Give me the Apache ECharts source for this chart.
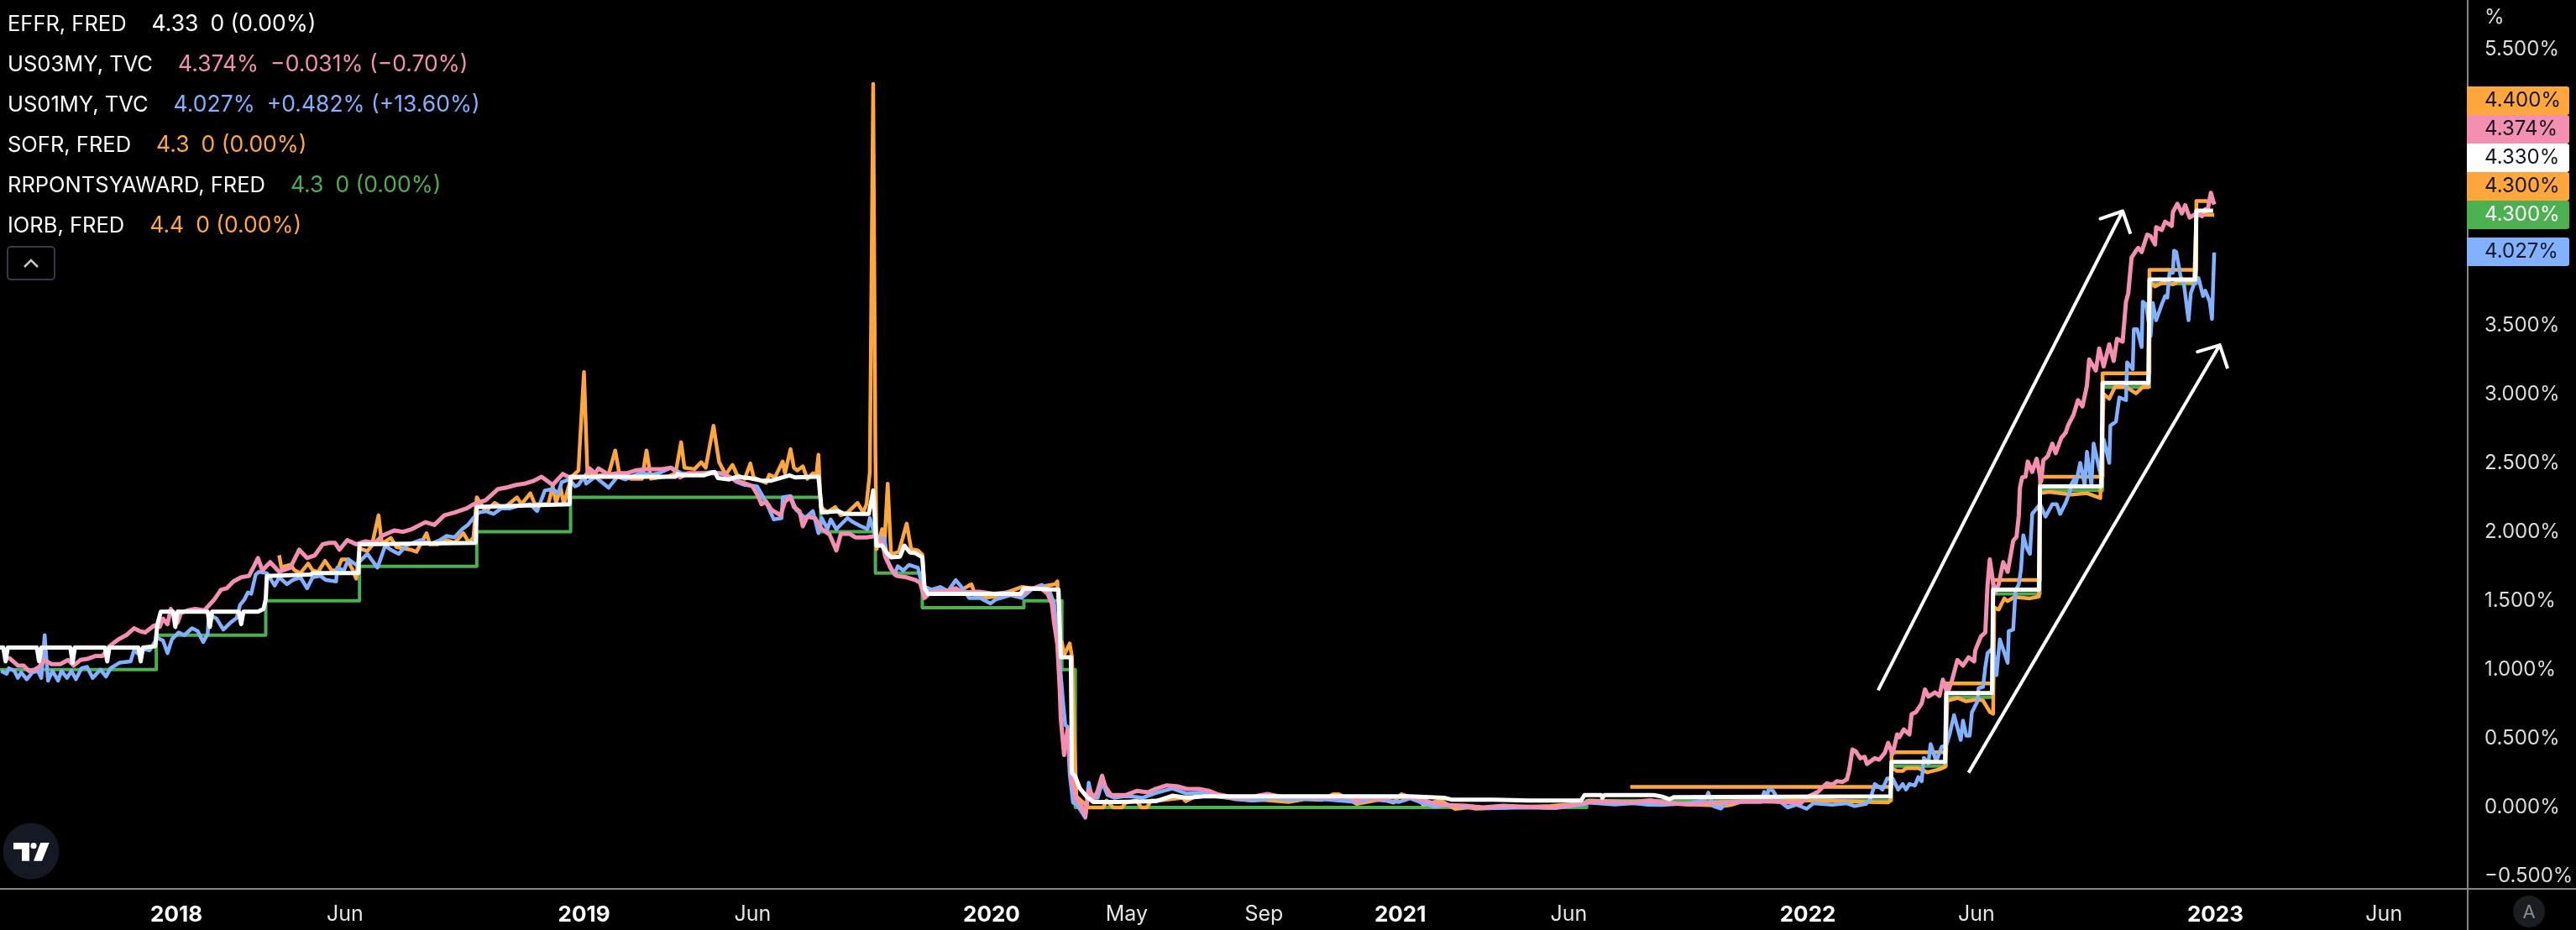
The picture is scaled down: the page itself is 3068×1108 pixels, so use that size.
<!DOCTYPE html>
<html>
<head>
<meta charset="utf-8">
<title>Rates</title>
<script src="https://cdn.jsdelivr.net/npm/echarts@6/dist/echarts.min.js"></script>
<style>
  html, body { margin: 0; padding: 0; background: #000; }
  #chart { width: 3068px; height: 1108px; }
</style>
</head>
<body>
<div id="chart"></div>
<script>
// values, [date, percent]
const rrp = [['2017-07-27',1.00],['2017-12-14',1.25],['2018-03-22',1.50],['2018-06-14',1.75],['2018-09-27',2.00],['2018-12-20',2.25],['2019-08-01',2.00],['2019-09-19',1.70],['2019-10-31',1.45],['2020-01-30',1.50],['2020-03-04',1.00],['2020-03-16',0.00],['2021-06-17',0.05],['2022-03-17',0.30],['2022-05-05',0.80],['2022-06-16',1.55],['2022-07-28',2.30],['2022-09-22',3.05],['2022-11-03',3.80],['2022-12-15',4.30],['2022-12-31',4.30]];

const iorb = [['2021-07-26',0.15],['2022-03-17',0.40],['2022-05-05',0.90],['2022-06-16',1.65],['2022-07-28',2.40],['2022-09-22',3.15],['2022-11-03',3.90],['2022-12-15',4.40],['2022-12-31',4.40]];

const sofr = [['2018-04-03',1.83],['2018-04-05',1.74],['2018-04-08',1.75],['2018-04-13',1.76],['2018-04-17',1.72],['2018-04-22',1.70],['2018-04-29',1.77],['2018-05-03',1.72],['2018-05-08',1.71],['2018-05-14',1.79],['2018-05-20',1.72],['2018-05-25',1.72],['2018-05-29',1.80],['2018-06-03',1.80],['2018-06-08',1.72],['2018-06-11',1.66],['2018-06-14',1.88],['2018-06-21',1.86],['2018-06-25',1.90],['2018-07-01',2.12],['2018-07-04',1.915],['2018-07-12',1.956],['2018-07-17',1.89],['2018-07-30',1.87],['2018-08-04',1.855],['2018-08-13',1.99],['2018-08-16',1.91],['2018-08-23',1.91],['2018-08-31',1.94],['2018-09-07',1.92],['2018-09-15',1.99],['2018-09-20',1.92],['2018-09-24',1.96],['2018-09-27',2.25],['2018-10-01',2.20],['2018-10-05',2.15],['2018-10-13',2.21],['2018-10-21',2.17],['2018-11-02',2.25],['2018-11-06',2.20],['2018-11-14',2.28],['2018-11-18',2.20],['2018-11-30',2.20],['2018-12-04',2.33],['2018-12-07',2.21],['2018-12-11',2.32],['2018-12-14',2.20],['2018-12-18',2.32],['2018-12-21',2.40],['2018-12-27',2.445],['2019-01-01',3.16],['2019-01-04',2.445],['2019-01-10',2.405],['2019-01-23',2.415],['2019-01-29',2.59],['2019-02-02',2.405],['2019-02-12',2.385],['2019-02-22',2.385],['2019-02-26',2.59],['2019-03-02',2.385],['2019-03-19',2.405],['2019-03-24',2.425],['2019-03-29',2.65],['2019-04-01',2.465],['2019-04-10',2.455],['2019-04-16',2.505],['2019-04-20',2.465],['2019-04-27',2.77],['2019-05-02',2.505],['2019-05-08',2.415],['2019-05-14',2.486],['2019-05-18',2.415],['2019-05-25',2.385],['2019-05-30',2.496],['2019-06-02',2.395],['2019-06-13',2.355],['2019-06-16',2.415],['2019-06-21',2.395],['2019-06-28',2.51],['2019-06-30',2.425],['2019-07-05',2.60],['2019-07-08',2.465],['2019-07-11',2.445],['2019-07-16',2.475],['2019-07-20',2.385],['2019-07-25',2.425],['2019-07-28',2.405],['2019-07-30',2.56],['2019-08-01',2.18],['2019-08-07',2.14],['2019-08-14',2.18],['2019-08-19',2.12],['2019-08-25',2.14],['2019-09-03',2.21],['2019-09-08',2.14],['2019-09-11',2.20],['2019-09-14',2.43],['2019-09-17',5.25],['2019-09-19',2.55],['2019-09-20',1.875],['2019-09-25',2.02],['2019-09-27',1.90],['2019-09-30',2.35],['2019-10-03',1.835],['2019-10-10',1.855],['2019-10-17',2.06],['2019-10-21',1.875],['2019-10-27',1.865],['2019-10-31',1.835],['2019-11-02',1.59],['2019-11-08',1.56],['2019-11-16',1.58],['2019-11-26',1.57],['2019-12-01',1.56],['2019-12-14',1.62],['2019-12-18',1.53],['2019-12-24',1.52],['2020-01-04',1.53],['2020-01-28',1.60],['2020-02-07',1.59],['2020-02-13',1.60],['2020-02-27',1.62],['2020-02-29',1.64],['2020-03-03',1.095],['2020-03-04',1.20],['2020-03-06',1.105],['2020-03-11',1.19],['2020-03-13',1.095],['2020-03-15',0.525],['2020-03-17',0.08],['2020-03-28',0.00],['2020-04-10',0.00],['2020-04-13',0.05],['2020-04-19',0.00],['2020-04-27',0.00],['2020-04-30',0.035],['2020-05-10',0.05],['2020-05-14',0.00],['2020-05-19',0.00],['2020-05-23',0.05],['2020-05-30',0.05],['2020-06-20',0.07],['2020-06-23',0.045],['2020-07-03',0.087],['2020-07-13',0.087],['2020-08-21',0.05],['2020-08-31',0.055],['2020-09-23',0.04],['2020-10-08',0.06],['2020-10-23',0.055],['2020-11-02',0.096],['2020-11-07',0.096],['2020-11-17',0.055],['2020-11-23',0.025],['2020-12-16',0.06],['2020-12-26',0.035],['2021-01-02',0.096],['2021-01-10',0.076],['2021-01-18',0.05],['2021-01-22',0.018],['2021-02-06',0.052],['2021-02-19',-0.01],['2021-03-03',0.00],['2021-03-10',-0.009],['2021-05-15',0.01],['2021-06-14',0.03],['2021-06-19',0.05],['2021-10-19',0.012],['2021-10-24',0.018],['2021-11-06',0.05],['2021-12-31',0.05],['2022-01-20',0.05],['2022-02-22',0.04],['2022-03-14',0.037],['2022-03-16',0.05],['2022-03-17',0.285],['2022-03-22',0.265],['2022-03-27',0.265],['2022-03-30',0.285],['2022-04-10',0.285],['2022-04-18',0.255],['2022-04-28',0.275],['2022-05-04',0.295],['2022-05-06',0.774],['2022-05-15',0.795],['2022-05-23',0.77],['2022-06-02',0.785],['2022-06-07',0.775],['2022-06-13',0.693],['2022-06-16',0.68],['2022-06-17',1.45],['2022-06-21',1.436],['2022-06-26',1.517],['2022-06-29',1.497],['2022-07-05',1.527],['2022-07-19',1.517],['2022-07-27',1.53],['2022-07-28',2.28],['2022-08-05',2.29],['2022-08-25',2.27],['2022-09-08',2.28],['2022-09-20',2.245],['2022-09-23',3.00],['2022-09-28',2.965],['2022-10-03',3.05],['2022-10-13',3.05],['2022-10-22',3.005],['2022-10-28',3.05],['2022-11-02',3.05],['2022-11-04',3.81],['2022-11-08',3.78],['2022-11-15',3.81],['2022-11-24',3.795],['2022-11-29',3.82],['2022-12-13',3.81],['2022-12-15',4.30],['2022-12-31',4.30]];

const us01my = [['2017-07-28',0.99],['2017-08-02',0.97],['2017-08-04',1.01],['2017-08-09',0.99],['2017-08-12',0.94],['2017-08-15',0.98],['2017-08-20',0.93],['2017-08-25',0.98],['2017-08-30',0.99],['2017-09-02',0.94],['2017-09-05',1.25],['2017-09-08',0.92],['2017-09-12',0.99],['2017-09-17',0.92],['2017-09-20',0.99],['2017-09-25',0.94],['2017-09-29',0.99],['2017-10-03',0.93],['2017-10-08',1.01],['2017-10-13',1.02],['2017-10-18',0.94],['2017-10-25',1.00],['2017-10-30',0.95],['2017-11-03',1.01],['2017-11-11',1.05],['2017-11-21',1.06],['2017-11-24',1.14],['2017-11-30',1.10],['2017-12-02',1.15],['2017-12-08',1.14],['2017-12-15',1.23],['2017-12-20',1.21],['2017-12-24',1.12],['2017-12-28',1.22],['2018-01-03',1.27],['2018-01-08',1.25],['2018-01-15',1.30],['2018-01-20',1.28],['2018-01-25',1.20],['2018-01-29',1.26],['2018-01-30',1.40],['2018-02-06',1.37],['2018-02-12',1.29],['2018-02-19',1.345],['2018-02-24',1.375],['2018-02-27',1.47],['2018-03-03',1.51],['2018-03-06',1.56],['2018-03-09',1.55],['2018-03-13',1.69],['2018-03-16',1.71],['2018-03-23',1.70],['2018-03-30',1.61],['2018-04-03',1.67],['2018-04-10',1.62],['2018-04-15',1.65],['2018-04-22',1.67],['2018-04-28',1.59],['2018-05-03',1.67],['2018-05-10',1.68],['2018-05-15',1.65],['2018-05-24',1.64],['2018-05-25',1.74],['2018-05-31',1.72],['2018-06-04',1.80],['2018-06-11',1.76],['2018-06-21',1.84],['2018-06-30',1.74],['2018-07-04',1.83],['2018-07-07',1.90],['2018-07-12',1.87],['2018-07-19',1.84],['2018-07-26',1.90],['2018-08-01',1.92],['2018-08-08',1.94],['2018-08-16',1.91],['2018-08-25',1.94],['2018-08-31',1.97],['2018-09-07',1.96],['2018-09-14',2.02],['2018-09-19',2.05],['2018-09-24',2.10],['2018-09-29',2.14],['2018-10-05',2.15],['2018-10-12',2.13],['2018-10-19',2.17],['2018-10-27',2.17],['2018-11-04',2.19],['2018-11-14',2.20],['2018-11-20',2.15],['2018-11-27',2.30],['2018-12-04',2.31],['2018-12-09',2.28],['2018-12-12',2.36],['2018-12-19',2.38],['2018-12-24',2.33],['2018-12-27',2.34],['2019-01-01',2.40],['2019-01-03',2.35],['2019-01-11',2.40],['2019-01-23',2.32],['2019-01-31',2.40],['2019-02-07',2.38],['2019-02-20',2.425],['2019-03-03',2.415],['2019-03-09',2.425],['2019-03-20',2.465],['2019-03-29',2.425],['2019-04-12',2.415],['2019-04-25',2.435],['2019-05-08',2.415],['2019-05-18',2.36],['2019-05-25',2.34],['2019-06-05',2.33],['2019-06-10',2.26],['2019-06-15',2.18],['2019-06-20',2.09],['2019-06-27',2.10],['2019-06-28',2.25],['2019-07-05',2.26],['2019-07-10',2.16],['2019-07-18',2.10],['2019-07-25',2.15],['2019-07-30',1.99],['2019-08-02',2.10],['2019-08-07',2.02],['2019-08-10',2.09],['2019-08-15',2.02],['2019-08-20',2.06],['2019-08-25',2.10],['2019-08-30',2.07],['2019-09-06',2.04],['2019-09-12',2.02],['2019-09-14',2.10],['2019-09-19',1.96],['2019-09-27',1.95],['2019-09-30',1.79],['2019-10-06',1.69],['2019-10-09',1.75],['2019-10-14',1.72],['2019-10-19',1.76],['2019-10-27',1.74],['2019-10-31',1.61],['2019-11-08',1.58],['2019-11-16',1.60],['2019-11-23',1.57],['2019-11-30',1.65],['2019-12-06',1.59],['2019-12-12',1.52],['2019-12-22',1.52],['2019-12-31',1.48],['2020-01-05',1.51],['2020-01-18',1.54],['2020-01-28',1.52],['2020-02-07',1.59],['2020-02-15',1.615],['2020-02-22',1.57],['2020-02-26',1.48],['2020-03-01',1.16],['2020-03-05',0.77],['2020-03-07',0.60],['2020-03-09',0.585],['2020-03-11',0.24],['2020-03-14',0.036],['2020-03-18',0.015],['2020-03-25',-0.075],['2020-03-28',0.18],['2020-03-31',0.07],['2020-04-05',0.07],['2020-04-09',0.18],['2020-04-14',0.09],['2020-04-20',0.07],['2020-04-28',0.08],['2020-05-05',0.08],['2020-05-15',0.07],['2020-05-27',0.105],['2020-06-11',0.138],['2020-06-24',0.10],['2020-07-05',0.107],['2020-07-20',0.086],['2020-08-06',0.06],['2020-08-21',0.052],['2020-08-30',0.056],['2020-09-08',0.072],['2020-09-23',0.056],['2020-10-10',0.066],['2020-10-29',0.056],['2020-11-23',0.04],['2020-12-06',0.06],['2020-12-31',0.04],['2021-01-10',0.066],['2021-01-22',0.03],['2021-02-01',0.005],['2021-02-11',0.018],['2021-03-01',0.005],['2021-03-26',-0.005],['2021-04-20',0.00],['2021-05-20',-0.005],['2021-06-12',0.02],['2021-06-19',0.035],['2021-07-12',0.022],['2021-07-29',0.03],['2021-08-11',0.02],['2021-08-23',0.018],['2021-09-17',0.03],['2021-09-28',0.05],['2021-10-02',0.07],['2021-10-04',0.107],['2021-10-08',0.012],['2021-10-15',-0.009],['2021-10-21',0.04],['2021-11-06',0.04],['2021-11-20',0.04],['2021-11-23',0.113],['2021-11-25',0.06],['2021-11-27',0.134],['2021-12-01',0.12],['2021-12-06',0.05],['2021-12-14',0.00],['2021-12-22',0.02],['2021-12-31',-0.009],['2022-01-06',0.03],['2022-01-23',0.02],['2022-02-05',0.03],['2022-02-12',0.01],['2022-02-22',0.025],['2022-02-26',0.06],['2022-03-02',0.17],['2022-03-09',0.13],['2022-03-13',0.21],['2022-03-18',0.21],['2022-03-23',0.13],['2022-03-27',0.17],['2022-03-30',0.13],['2022-04-02',0.17],['2022-04-07',0.16],['2022-04-10',0.22],['2022-04-13',0.19],['2022-04-15',0.36],['2022-04-19',0.32],['2022-04-21',0.46],['2022-04-26',0.335],['2022-05-01',0.44],['2022-05-05',0.45],['2022-05-08',0.53],['2022-05-12',0.67],['2022-05-18',0.49],['2022-05-20',0.63],['2022-05-23',0.52],['2022-05-26',0.52],['2022-05-28',0.69],['2022-06-02',0.77],['2022-06-03',0.865],['2022-06-07',0.875],['2022-06-09',1.02],['2022-06-11',1.12],['2022-06-16',1.16],['2022-06-19',0.96],['2022-06-22',1.22],['2022-06-29',1.05],['2022-06-30',1.28],['2022-07-04',1.29],['2022-07-06',1.57],['2022-07-09',1.62],['2022-07-11',1.73],['2022-07-13',1.975],['2022-07-16',1.885],['2022-07-19',1.84],['2022-07-21',2.13],['2022-07-24',2.16],['2022-07-28',2.20],['2022-08-02',2.11],['2022-08-08',2.20],['2022-08-12',2.20],['2022-08-15',2.13],['2022-08-20',2.21],['2022-08-24',2.30],['2022-08-25',2.345],['2022-08-28',2.385],['2022-08-29',2.345],['2022-09-02',2.50],['2022-09-06',2.34],['2022-09-08',2.58],['2022-09-12',2.34],['2022-09-14',2.64],['2022-09-17',2.53],['2022-09-20',2.42],['2022-09-23',2.67],['2022-09-28',2.50],['2022-09-29',2.77],['2022-10-04',2.80],['2022-10-07',2.975],['2022-10-13',2.955],['2022-10-14',3.23],['2022-10-19',3.18],['2022-10-20',3.47],['2022-10-23',3.47],['2022-10-27',3.34],['2022-10-28',3.67],['2022-10-31',3.65],['2022-11-04',3.42],['2022-11-06',3.66],['2022-11-09',3.535],['2022-11-14',3.65],['2022-11-17',3.71],['2022-11-19',3.70],['2022-11-21',3.88],['2022-11-24',3.88],['2022-11-25',4.04],['2022-11-27',4.03],['2022-12-01',3.85],['2022-12-04',3.79],['2022-12-08',3.535],['2022-12-10',3.73],['2022-12-13',3.80],['2022-12-17',3.84],['2022-12-21',3.71],['2022-12-23',3.75],['2022-12-27',3.67],['2022-12-29',3.545],['2022-12-31',4.027]];

const us03my = [['2017-08-01',1.09],['2017-08-05',1.08],['2017-08-12',1.03],['2017-08-17',1.03],['2017-08-22',0.99],['2017-08-27',1.00],['2017-08-31',1.02],['2017-09-05',1.07],['2017-09-11',1.04],['2017-09-19',1.04],['2017-09-26',1.07],['2017-10-01',1.03],['2017-10-07',1.07],['2017-10-14',1.08],['2017-10-21',1.10],['2017-10-27',1.10],['2017-11-02',1.17],['2017-11-10',1.22],['2017-11-17',1.25],['2017-11-24',1.30],['2017-11-29',1.28],['2017-12-04',1.27],['2017-12-12',1.32],['2017-12-17',1.31],['2017-12-20',1.37],['2017-12-24',1.33],['2017-12-27',1.44],['2018-01-02',1.34],['2018-01-05',1.41],['2018-01-11',1.43],['2018-01-18',1.44],['2018-01-26',1.43],['2018-02-04',1.51],['2018-02-10',1.58],['2018-02-15',1.59],['2018-02-21',1.64],['2018-02-28',1.67],['2018-03-07',1.68],['2018-03-12',1.76],['2018-03-15',1.81],['2018-03-19',1.72],['2018-03-26',1.78],['2018-04-03',1.71],['2018-04-13',1.74],['2018-04-21',1.87],['2018-04-28',1.81],['2018-05-05',1.83],['2018-05-12',1.91],['2018-05-18',1.92],['2018-05-23',1.92],['2018-05-27',1.87],['2018-06-03',1.94],['2018-06-11',1.91],['2018-06-19',1.93],['2018-06-28',1.92],['2018-07-04',1.97],['2018-07-15',2.01],['2018-07-23',2.00],['2018-07-31',2.02],['2018-08-12',2.07],['2018-08-20',2.05],['2018-08-29',2.12],['2018-09-07',2.14],['2018-09-18',2.17],['2018-09-24',2.20],['2018-10-05',2.23],['2018-10-16',2.31],['2018-10-23',2.32],['2018-11-01',2.34],['2018-11-09',2.35],['2018-11-17',2.37],['2018-11-24',2.40],['2018-12-04',2.34],['2018-12-13',2.42],['2018-12-20',2.39],['2019-01-02',2.40],['2019-01-06',2.46],['2019-01-11',2.425],['2019-01-14',2.46],['2019-01-23',2.415],['2019-01-31',2.425],['2019-02-08',2.425],['2019-02-16',2.445],['2019-02-25',2.455],['2019-03-05',2.455],['2019-03-12',2.455],['2019-03-20',2.465],['2019-03-23',2.445],['2019-03-28',2.395],['2019-04-04',2.425],['2019-04-17',2.425],['2019-04-27',2.425],['2019-05-04',2.425],['2019-05-10',2.405],['2019-05-17',2.375],['2019-05-24',2.355],['2019-06-01',2.33],['2019-06-06',2.26],['2019-06-09',2.20],['2019-06-13',2.22],['2019-06-18',2.16],['2019-06-26',2.12],['2019-06-30',2.22],['2019-07-05',2.25],['2019-07-08',2.18],['2019-07-13',2.15],['2019-07-16',2.04],['2019-07-20',2.11],['2019-07-27',2.10],['2019-08-02',2.02],['2019-08-09',1.98],['2019-08-15',1.865],['2019-08-19',1.985],['2019-08-27',1.985],['2019-09-01',1.96],['2019-09-11',1.96],['2019-09-20',1.97],['2019-09-25',1.92],['2019-09-28',1.815],['2019-10-03',1.73],['2019-10-08',1.68],['2019-10-17',1.67],['2019-10-25',1.65],['2019-10-29',1.63],['2019-11-02',1.52],['2019-11-08',1.565],['2019-11-21',1.57],['2019-11-30',1.59],['2019-12-06',1.56],['2019-12-21',1.565],['2020-01-03',1.55],['2020-01-17',1.56],['2020-01-25',1.54],['2020-02-03',1.58],['2020-02-13',1.60],['2020-02-20',1.553],['2020-02-24',1.48],['2020-02-26',1.34],['2020-02-29',1.18],['2020-03-02',0.87],['2020-03-03',0.65],['2020-03-06',0.38],['2020-03-09',0.565],['2020-03-13',0.20],['2020-03-17',0.06],['2020-03-21',0.015],['2020-03-25',-0.065],['2020-03-28',0.13],['2020-04-02',0.07],['2020-04-05',0.12],['2020-04-09',0.23],['2020-04-12',0.15],['2020-04-17',0.09],['2020-04-25',0.09],['2020-04-30',0.09],['2020-05-10',0.12],['2020-05-20',0.11],['2020-05-27',0.135],['2020-06-06',0.16],['2020-06-15',0.154],['2020-06-24',0.134],['2020-07-05',0.134],['2020-07-14',0.12],['2020-07-21',0.097],['2020-08-05',0.072],['2020-08-18',0.072],['2020-09-04',0.097],['2020-09-17',0.077],['2020-10-02',0.077],['2020-10-27',0.077],['2020-11-16',0.077],['2020-11-23',0.046],['2020-11-28',0.072],['2020-12-16',0.06],['2020-12-26',0.077],['2021-01-10',0.072],['2021-01-18',0.065],['2021-01-30',0.032],['2021-02-09',0.018],['2021-03-01',0.012],['2021-03-16',0.00],['2021-04-03',0.012],['2021-04-20',0.006],['2021-05-20',0.00],['2021-06-04',0.018],['2021-06-14',0.032],['2021-06-19',0.042],['2021-07-04',0.042],['2021-07-29',0.038],['2021-08-13',0.052],['2021-08-23',0.038],['2021-09-17',0.022],['2021-10-02',0.032],['2021-11-06',0.046],['2021-12-01',0.042],['2021-12-26',0.032],['2021-12-31',0.073],['2022-01-10',0.113],['2022-01-18',0.175],['2022-01-23',0.165],['2022-01-27',0.19],['2022-02-01',0.185],['2022-02-05',0.204],['2022-02-07',0.265],['2022-02-10',0.42],['2022-02-13',0.407],['2022-02-17',0.357],['2022-02-21',0.367],['2022-02-23',0.316],['2022-03-02',0.357],['2022-03-06',0.347],['2022-03-11',0.397],['2022-03-14',0.469],['2022-03-18',0.387],['2022-03-22',0.53],['2022-03-24',0.51],['2022-03-28',0.566],['2022-04-02',0.53],['2022-04-04',0.676],['2022-04-08',0.693],['2022-04-13',0.754],['2022-04-16',0.856],['2022-04-19',0.805],['2022-04-25',0.835],['2022-04-29',0.81],['2022-05-02',0.927],['2022-05-06',0.825],['2022-05-10',0.917],['2022-05-15',1.07],['2022-05-20',1.03],['2022-05-25',1.09],['2022-05-30',1.06],['2022-05-31',1.14],['2022-06-05',1.24],['2022-06-09',1.27],['2022-06-11',1.61],['2022-06-13',1.80],['2022-06-16',1.63],['2022-06-18',1.56],['2022-06-21',1.62],['2022-06-25',1.78],['2022-06-29',1.71],['2022-07-04',1.935],['2022-07-07',1.965],['2022-07-09',2.12],['2022-07-10',2.32],['2022-07-12',2.395],['2022-07-15',2.40],['2022-07-17',2.51],['2022-07-21',2.435],['2022-07-25',2.53],['2022-07-29',2.365],['2022-07-31',2.52],['2022-08-04',2.55],['2022-08-08',2.64],['2022-08-11',2.57],['2022-08-16',2.68],['2022-08-20',2.72],['2022-08-22',2.77],['2022-08-27',2.85],['2022-08-31',2.955],['2022-09-04',2.91],['2022-09-08',3.06],['2022-09-10',3.25],['2022-09-16',3.17],['2022-09-19',3.33],['2022-09-23',3.20],['2022-09-28',3.36],['2022-10-02',3.24],['2022-10-05',3.40],['2022-10-10',3.38],['2022-10-13',3.67],['2022-10-15',3.73],['2022-10-18',3.99],['2022-10-22',4.04],['2022-10-24',4.06],['2022-10-27',4.03],['2022-11-01',4.156],['2022-11-04',4.146],['2022-11-08',4.085],['2022-11-09',4.21],['2022-11-14',4.19],['2022-11-17',4.25],['2022-11-23',4.22],['2022-11-24',4.32],['2022-11-28',4.38],['2022-12-02',4.31],['2022-12-05',4.37],['2022-12-09',4.28],['2022-12-15',4.31],['2022-12-20',4.29],['2022-12-23',4.34],['2022-12-25',4.33],['2022-12-28',4.46],['2022-12-31',4.374]];

const effr = [['2017-07-27',1.16],['2017-07-30',1.16],['2017-08-01',1.06],['2017-08-03',1.16],['2017-08-29',1.16],['2017-08-31',1.06],['2017-09-02',1.16],['2017-09-28',1.16],['2017-09-30',1.05],['2017-10-02',1.16],['2017-10-29',1.16],['2017-10-31',1.06],['2017-11-02',1.16],['2017-11-28',1.16],['2017-11-30',1.06],['2017-12-02',1.16],['2017-12-13',1.17],['2017-12-15',1.33],['2017-12-18',1.42],['2017-12-29',1.42],['2017-12-31',1.31],['2018-01-02',1.42],['2018-01-29',1.42],['2018-01-31',1.31],['2018-02-02',1.42],['2018-02-26',1.42],['2018-02-28',1.33],['2018-03-02',1.42],['2018-03-15',1.42],['2018-03-20',1.44],['2018-03-22',1.51],['2018-03-23',1.68],['2018-05-01',1.69],['2018-05-03',1.70],['2018-06-13',1.70],['2018-06-14',1.91],['2018-09-26',1.92],['2018-09-27',2.18],['2018-12-19',2.20],['2018-12-20',2.40],['2019-03-24',2.40],['2019-03-26',2.42],['2019-03-30',2.41],['2019-04-18',2.41],['2019-04-28',2.435],['2019-05-01',2.39],['2019-05-11',2.38],['2019-05-18',2.40],['2019-05-29',2.39],['2019-06-10',2.37],['2019-06-17',2.37],['2019-07-04',2.41],['2019-07-09',2.395],['2019-07-27',2.40],['2019-07-30',2.40],['2019-08-02',2.14],['2019-08-17',2.15],['2019-08-22',2.13],['2019-09-13',2.13],['2019-09-16',2.25],['2019-09-17',2.30],['2019-09-20',1.90],['2019-09-25',1.90],['2019-09-29',1.85],['2019-10-03',1.815],['2019-10-11',1.82],['2019-10-15',1.90],['2019-10-20',1.85],['2019-10-25',1.845],['2019-10-31',1.815],['2019-11-02',1.59],['2019-11-05',1.55],['2020-01-27',1.55],['2020-01-30',1.59],['2020-03-01',1.58],['2020-03-03',1.09],['2020-03-12',1.09],['2020-03-13',0.25],['2020-03-16',0.225],['2020-03-20',0.14],['2020-03-26',0.08],['2020-04-01',0.04],['2020-04-22',0.04],['2020-05-27',0.045],['2020-06-11',0.085],['2020-06-24',0.07],['2020-07-09',0.08],['2021-01-10',0.08],['2021-02-09',0.07],['2021-02-16',0.057],['2021-03-26',0.057],['2021-04-27',0.05],['2021-06-12',0.05],['2021-06-15',0.09],['2021-06-30',0.09],['2021-07-01',0.07],['2021-07-03',0.09],['2021-08-16',0.09],['2021-08-23',0.08],['2021-08-30',0.06],['2021-09-03',0.075],['2022-03-16',0.08],['2022-03-17',0.33],['2022-05-04',0.33],['2022-05-05',0.83],['2022-06-15',0.83],['2022-06-16',1.58],['2022-07-27',1.58],['2022-07-28',2.33],['2022-09-21',2.33],['2022-09-22',3.08],['2022-11-02',3.08],['2022-11-03',3.83],['2022-12-14',3.83],['2022-12-15',4.33],['2022-12-30',4.33]];

// hand drawn arrows on the chart: shaft start, tip, head, tip, head
const arrowUpper = [['2022-03-05',0.85],['2022-10-10',4.327],['2022-09-20',4.272],['2022-10-10',4.327],['2022-10-17',4.162]];
const arrowLower = [['2022-05-25',0.252],['2023-01-05',3.355],['2022-12-16',3.306],['2023-01-05',3.355],['2023-01-12',3.184]];

const xTickDates = ['2018-01-01','2018-06-01','2019-01-01','2019-06-01','2020-01-01','2020-05-01','2020-09-01','2021-01-01','2021-06-01','2022-01-01','2022-06-01','2023-01-01','2023-06-01'];
const xTickLabels = ['2018','Jun','2019','Jun','2020','May','Sep','2021','Jun','2022','Jun','2023','Jun'];
const yTicks = [-0.5,0,0.5,1,1.5,2,2.5,3,3.5,5.5];

const legendRows = [
  ['EFFR, FRED','4.33','0 (0.00%)','#ffffff'],
  ['US03MY, TVC','4.374%','\u22120.031% (\u22120.70%)','#f48fb1'],
  ['US01MY, TVC','4.027%','+0.482% (+13.60%)','#82b1ff'],
  ['SOFR, FRED','4.3','0 (0.00%)','#ffa73d'],
  ['RRPONTSYAWARD, FRED','4.3','0 (0.00%)','#4caf50'],
  ['IORB, FRED','4.4','0 (0.00%)','#ffa73d']
];
const priceTags = [
  ['4.400%','#ffa73d','#131722',103],
  ['4.374%','#f48fb1','#131722',137],
  ['4.330%','#ffffff','#131722',171],
  ['4.300%','#ffa73d','#131722',205],
  ['4.300%','#4caf50','#ffffff',239],
  ['4.027%','#82b1ff','#131722',283]
];

const FONT = 'Inter, "Noto Sans", sans-serif';
const AXIS_GREY = '#868686';

const toTime = d => new Date(d + 'T12:00:00').getTime();

function lineSeries(name, rows, color, z, step, width) {
  return {
    name, type: 'line', z, step: step || false,
    data: rows.map(r => [toTime(r[0]), r[1]]),
    showSymbol: false, silent: true, animation: false, sampling: false,
    lineStyle: { color, width: width || 4, join: 'round' },
    itemStyle: { color }
  };
}

const legendGraphics = legendRows.map((row, i) => ({
  type: 'text', left: 9, top: 26 + i * 48 - 10, z: 20,
  style: {
    text: '{n|' + row[0] + '}{v|' + row[1] + '}{c|' + row[2] + '}',
    rich: {
      n: { fill: '#ffffff', font: '25.5px ' + FONT },
      v: { fill: row[3], font: '26.5px ' + FONT, padding: [0, 0, 0, 30] },
      c: { fill: row[3], font: '26.5px ' + FONT, padding: [0, 0, 0, 14] }
    }
  }
}));

const tagGraphics = [];
priceTags.forEach(tag => {
  tagGraphics.push({ type: 'rect', z: 30, shape: { x: 2938, y: tag[3], width: 122, height: 34, r: [0, 3, 3, 0] }, style: { fill: tag[1] } });
  tagGraphics.push({ type: 'text', z: 31, x: 2959, y: tag[3] + 17, style: { text: tag[0], fill: tag[2], font: '24px ' + FONT, textVerticalAlign: 'middle' } });
});

const chromeGraphics = [
  // axis stubs past the plot
  { type: 'line', z: 5, shape: { x1: 2939, y1: 1059, x2: 3068, y2: 1059 }, style: { stroke: AXIS_GREY, lineWidth: 2 } },
  { type: 'line', z: 5, shape: { x1: 2939, y1: 1059, x2: 2939, y2: 1108 }, style: { stroke: AXIS_GREY, lineWidth: 2 } },
  { type: 'text', z: 20, x: 2959, y: 21, style: { text: '%', fill: '#dddddd', font: '24px ' + FONT, textVerticalAlign: 'middle' } },
  // auto scale button
  { type: 'circle', z: 20, shape: { cx: 3012, cy: 1086, r: 19 }, style: { fill: '#1c1d21' } },
  { type: 'text', z: 21, x: 3012, y: 1087, style: { text: 'A', fill: '#8a8a94', font: '22px ' + FONT, textAlign: 'center', textVerticalAlign: 'middle' } },
  // collapse button
  { type: 'rect', z: 20, shape: { x: 9, y: 294, width: 56, height: 39, r: 4 }, style: { fill: 'none', stroke: '#363a45', lineWidth: 2 } },
  { type: 'polyline', z: 20, shape: { points: [[29, 318], [37, 310], [45, 318]] }, style: { stroke: '#c8c8c8', lineWidth: 2.5, fill: 'none' } },
  // logo
  { type: 'circle', z: 20, shape: { cx: 37, cy: 1014, r: 33.5 }, style: { fill: '#151924' } },
  { type: 'polygon', z: 21, shape: { points: [[16, 1004], [35, 1004], [35, 1025.7], [26, 1025.7], [26, 1011.7], [16, 1011.7]] }, style: { fill: '#ffffff' } },
  { type: 'circle', z: 21, shape: { cx: 40, cy: 1007.7, r: 3.6 }, style: { fill: '#ffffff' } },
  { type: 'polygon', z: 21, shape: { points: [[48.3, 1004], [58.7, 1004], [50, 1025.7], [40, 1025.7]] }, style: { fill: '#ffffff' } }
];

const chart = echarts.init(document.getElementById('chart'), null, { renderer: 'canvas' });

chart.setOption({
  backgroundColor: '#000000',
  animation: false,
  textStyle: { fontFamily: FONT },
  grid: { left: 0, right: 129, top: 0, bottom: 49, containLabel: false },
  xAxis: {
    // value axis on timestamps: the time axis does not take customValues
    type: 'value',
    min: toTime('2017-07-27'),
    max: toTime('2023-08-15'),
    axisLine: { show: true, onZero: false, lineStyle: { color: AXIS_GREY, width: 2 } },
    axisTick: { show: false },
    splitLine: { show: false },
    axisLabel: {
      customValues: xTickDates.map(toTime),
      margin: 18,
      hideOverlap: false,
      formatter: value => {
        const label = xTickLabels[xTickDates.findIndex(d => toTime(d) === value)];
        return label.length === 4 ? '{y|' + label + '}' : '{m|' + label + '}';
      },
      rich: {
        y: { color: '#ffffff', fontSize: 26, fontWeight: 700, fontFamily: FONT },
        m: { color: '#e6e6e6', fontSize: 25, fontFamily: FONT }
      }
    }
  },
  yAxis: {
    type: 'value',
    position: 'right',
    min: -0.5907,
    max: 5.8587,
    axisLine: { show: true, onZero: false, lineStyle: { color: AXIS_GREY, width: 2 } },
    axisTick: { show: false },
    splitLine: { show: false },
    axisLabel: {
      customValues: yTicks,
      margin: 20,
      color: '#dddddd',
      fontSize: 24,
      fontFamily: FONT,
      formatter: v => v.toFixed(3).replace('-', '\u2212') + '%'
    }
  },
  series: [
    lineSeries('RRPONTSYAWARD', rrp, '#4caf50', 2, 'end', 4),
    lineSeries('IORB', iorb, '#ffa73d', 3, 'end', 4.5),
    lineSeries('SOFR', sofr, '#ffa73d', 4, false, 4.5),
    lineSeries('US01MY', us01my, '#82b1ff', 5, false, 4.5),
    lineSeries('US03MY', us03my, '#f48fb1', 6, false, 5),
    lineSeries('EFFR', effr, '#ffffff', 7, false, 5),
    lineSeries('arrowUpper', arrowUpper, '#ffffff', 8, false, 4),
    lineSeries('arrowLower', arrowLower, '#ffffff', 8, false, 4)
  ],
  graphic: { elements: [...chromeGraphics, ...legendGraphics, ...tagGraphics] }
});
</script>
</body>
</html>
